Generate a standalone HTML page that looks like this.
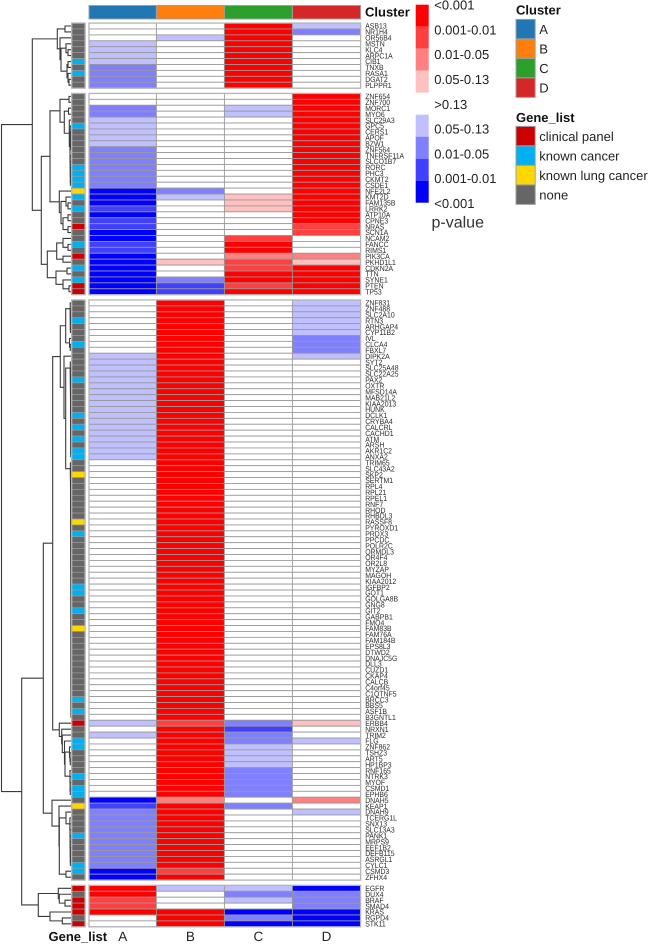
<!DOCTYPE html>
<html lang="en">
<head>
<meta charset="utf-8">
<title>Gene p-value heatmap by cluster</title>
<style>
html,body{margin:0;padding:0;background:#fff;width:650px;height:944px;overflow:hidden}
svg{display:block;font-family:"Liberation Sans",Arial,sans-serif;filter:blur(0.25px)}
text{text-rendering:geometricPrecision}
.rl{font-size:6.9px;fill:#2b2b2b}
.lg{font-size:13px;fill:#222}
.tt{font-size:13px;font-weight:bold;fill:#111}
</style>
</head>
<body>
<svg id="chart" xmlns="http://www.w3.org/2000/svg" width="650" height="944" viewBox="0 0 650 944">
  <rect x="0" y="0" width="650" height="944" fill="#ffffff"/>
  <g id="dendrogram" fill="none" stroke="#3a3a3a" stroke-width="1.1"></g>
  <g id="row-anno"></g>
  <g id="col-anno"></g>
  <g id="cells"></g>
  <g id="outlines" fill="none" stroke="#b4b4b4" stroke-width="1.3"></g>
  <g id="row-labels"></g>
  <text class="tt" x="365" y="16.5">Cluster</text>
  <text class="tt" x="48.5" y="941">Gene_list</text>
  <g id="col-labels"></g>
  <g id="pvalue-legend"></g>
  <text x="431.5" y="227.5" font-size="16" fill="#333">p-value</text>
  <g id="cluster-legend"></g>
  <g id="gene-legend"></g>
</svg>
<script>
// ---------- DATA ----------
const clusters = ["A","B","C","D"];
const clusterColors = ["#1f77b4","#ff7f0e","#2ca02c","#d62728"];
const geneCategories = ["clinical panel","known cancer","known lung cancer","none"];
const geneCategoryColors = ["#cc0000","#00b0f0","#ffd700","#666666"];
const groupSizes = [11,34,98,7];

const genes = [
"ASB13","NR1H4","OR56B4","MSTN","KLC4","ARPC1A","CIB1","TNXB","RASA1","DGAT2","PLPPR1",
"ZNF654","ZNF700","MORC1","MYO6","SLC29A3","GPC5","CERS1","APOF","BZW1","ZNF564","TNFRSF11A","SLCO1B7","RORC","PHC3","CKMT2","CSDE1","NFE2L2","KMT2D","FAM135B","LRRK2","ATP10A","CPNE3","NRAS","SCN1A","NCAM2","FANCC","RIMS1","PIK3CA","PKHD1L1","CDKN2A","TTN","SYNE1","PTEN","TP53",
"ZNF831","ZNF488","SLC2A10","RTN3","ARHGAP4","CYP11B2","IVL","CLCA4","FBXL7","DIPK2A","SYT2","SLC25A48","SLC22A25","PAX2","OXTR","MFSD14A","MAB21L2","KIAA2013","HUNK","DCLK1","CRYBA4","CALCRL","CACHD1","ATM","ARSH","AKR1C2","ANXA2","TRIM65","SLC43A2","SKP2","SERTM1","RPL4","RPL21","RPEL1","RNF7","RHOD","RHBDL3","RASSF8","PYROXD1","PRDX3","PPCDC","POLR2C","ORMDL3","OR4F4","OR2L8","MYZAP","MAGOH","KIAA2012","IGFBP2","GOT1","GOLGA8B","GNG8","GIT2","GABPB1","FMO4","FAM83B","FAM76A","FAM184B","EPS8L3","DTWD2","DNAJC5G","DLL3","CUZD1","CKAP4","CALCB","C4orf45","C1QTNF5","BRCC3","BBS5","ASF1B","B3GNTL1","ERBB4","NRXN1","TRIM2","FLG","ZNF862","TSHZ3","ART5","HP1BP3","RNF165","NTRK3","MYOF","CSMD1","EPHB6","DNAH5","KEAP1","DNAH9","TCERG1L","SNX13","SLC13A3","PANK1","MRPS9","EEF1B2","DEFB115","ASRGL1","CYLC1","CSMD3","ZFHX4",
"EGFR","DUX4","BRAF","SMAD4","KRAS","RGPD4","STK11"];

// index into geneCategories for each gene
const geneListValues = [
3,3,3,3,3,3,1,3,1,3,3,
3,3,3,3,3,1,3,3,3,3,3,3,1,1,1,1,2,1,3,1,3,3,0,3,3,1,3,0,3,1,3,1,0,0,
3,3,3,1,3,3,3,1,3,3,
3,3,3,1,3,3,3,3,3,1,
3,1,3,1,3,1,1,3,3,2,
3,3,3,3,3,3,3,2,3,1,
3,3,3,3,3,3,3,3,1,1,
3,3,1,3,3,2,3,3,3,3,
3,3,3,3,3,3,3,1,3,1,
3,0,3,3,1,1,3,3,3,3,
1,3,1,1,3,2,3,3,3,3,
1,3,3,3,3,1,1,3,
0,3,0,0,0,3,0];

// p-value class per gene: +4..+1 red (<0.001 .. 0.05-0.13), 0 = >0.13, -1..-4 blue
const valuesA = [
0,0,0,-1,-1,-1,-1,-2,-2,-2,-2,
0,0,-2,-2,-1,-1,-1,-1,-1,-2,-2,-2,-2,-2,-2,-2,-4,-4,-4,-3,-4,-3,-3,-4,-4,-3,-3,-4,-4,-4,-4,-4,-4,-4,
0,0,0,0,0,0,0,0,0,-1,
-1,-1,-1,-1,-1,-1,-1,-1,-1,-1,
-1,-1,-1,-1,-1,-1,-1,0,0,0,
0,0,0,0,0,0,0,0,0,0,
0,0,0,0,0,0,0,0,0,0,
0,0,0,0,0,0,0,0,0,0,
0,0,0,0,0,0,0,0,0,0,
0,-1,0,-1,0,0,0,0,0,0,
0,0,0,0,-4,-3,-2,-2,-2,-2,
-2,-2,-2,-2,-2,-2,-4,-4,
4,4,3,3,4,0,0];
const valuesB = [
0,0,-1,0,0,0,0,0,0,0,0,
0,0,0,0,0,0,0,0,0,0,0,0,0,0,0,0,-2,-1,0,0,0,0,0,0,0,0,0,0,1,0,0,-2,-3,-3,
4,4,4,4,4,4,4,4,4,4,
4,4,4,4,4,4,4,4,4,4,
4,4,4,4,4,4,4,4,4,4,
4,4,4,4,4,4,4,4,4,4,
4,4,4,4,4,4,4,4,4,4,
4,4,4,4,4,4,4,4,4,4,
4,4,4,4,4,4,4,4,4,4,
4,3,4,4,4,4,4,4,4,4,
4,4,4,4,2,4,4,4,4,4,
4,4,4,4,4,4,3,4,
-1,0,0,0,4,4,4];
const valuesC = [
4,4,4,4,4,4,4,4,4,4,4,
0,0,-1,-1,0,0,0,0,0,0,0,0,0,0,0,0,0,1,1,1,0,0,0,0,3,4,4,2,3,3,4,4,3,4,
0,0,0,0,0,0,0,0,0,0,
0,0,0,0,0,0,0,0,0,0,
0,0,0,0,0,0,0,0,0,0,
0,0,0,0,0,0,0,0,0,0,
0,0,0,0,0,0,0,0,0,0,
0,0,0,0,0,0,0,0,0,0,
0,0,0,0,0,0,0,0,0,0,
0,-2,-3,-2,-2,-1,-1,-1,-1,-2,
-2,-2,-2,-2,0,-2,0,0,0,0,
0,0,0,0,0,0,0,0,
-1,-2,-1,0,-4,-2,-4];
const valuesD = [
-1,-2,0,0,0,0,0,0,0,0,0,
4,4,4,4,4,4,4,4,4,4,4,4,4,4,4,4,4,4,4,4,4,4,3,3,0,0,0,2,1,4,4,4,4,4,
-1,-1,-1,-1,-1,-1,-2,-2,-2,-1,
0,0,0,0,0,0,0,0,0,0,
0,0,0,0,0,0,0,0,0,0,
0,0,0,0,0,0,0,0,0,0,
0,0,0,0,0,0,0,0,0,0,
0,0,0,0,0,0,0,0,0,0,
0,0,0,0,0,0,0,0,0,0,
0,1,0,0,-1,0,0,0,0,0,
0,0,0,0,2,0,-1,0,0,0,
0,0,0,0,0,0,0,0,
-4,-2,-2,-2,-4,-4,-4];
const clusterValues = [valuesA,valuesB,valuesC,valuesD];

const pLegendLabels = ["<0.001","0.001-0.01","0.01-0.05","0.05-0.13",">0.13","0.05-0.13","0.01-0.05","0.001-0.01","<0.001"];
const pLegendClasses = [4,3,2,1,0,-1,-2,-3,-4];

// Dendrogram merges: [height, childA, childB]; a plain number is a gene row.
function comb(h, from, to){
  if(from === to) return from;
  return [h, from, comb(h*0.92, from+1, to)];
}
const treeG1 = [13.7,
  [6,0,1],
  [11,2,[10,[5,3,[3,4,5]],[4,[3,6,7],[3,8,[2,9,10]]]]]];
const treeG2Upper = [21,
  [11,[2,11,12],[6.7,[2.5,13,14],[1.7,15,[1,comb(0.8,16,20),comb(0.8,21,26)]]]],
  [11.7,27,[10,[5,28,[3,29,30]],[8,[3,31,32],[3,33,34]]]]];
const treeG2Lower = [23.7,
  [14.3,[8,35,[3,36,37]],[8,38,39]],
  [15,[4,40,41],[8,42,[2,43,44]]]];
const treeG3Upper = [18.3,
  [10.7,
    [5.3,comb(0.8,45,50),[1.5,51,[0.7,52,53]]],
    [7,54,[5.3,comb(0.7,55,71),comb(0.6,72,115)]]],
  [11.7,116,[9.3,117,[8.7,118,[6.5,119,[6,[1.5,120,[1,121,[0.7,122,123]]],comb(1,124,128)]]]]]];
const treeG3Lower = [19,129,[12,130,[11.7,[5,131,comb(1.1,132,140)],[5,141,142]]]];
const treeG4 = [32.7,
  [12.7,143,[11.7,144,[6,145,146]]],
  [21,147,[8.7,148,149]]];
const rowTree = [69.5,
  [38.7,treeG1,[29.7,treeG2Upper,treeG2Lower]],
  [49.3,[27.7,treeG3Upper,treeG3Lower],treeG4]];

// ---------- AXES ----------
const NS = "http://www.w3.org/2000/svg";
const rowH = 5.92, groupGap = 5.25, top0 = 23.05;
const colEdges = [89,156.4,224.4,292.4,360.6];
const rowGroupStart = [];
groupSizes.reduce(function(s,n,i){rowGroupStart[i]=s;return s+n;},0);
function groupOf(i){
  let g = 0;
  for(let k=0;k<groupSizes.length;k++){ if(i>=rowGroupStart[k]) g=k; }
  return g;
}
function rowTop(i){ return top0 + i*rowH + groupOf(i)*groupGap; }
function rowMid(i){ return rowTop(i) + rowH/2; }
function dendroX(h){ return 71 - h; }
function classColor(v){
  const shades = ["#ffffff","#ffc0c0","#ff8080","#ff4040","#ff0000"];
  const blues  = ["#ffffff","#c0c0ff","#8080ff","#4040ff","#0000ff"];
  return v >= 0 ? shades[v] : blues[-v];
}
function make(tag, attrs, parent){
  const el = document.createElementNS(NS, tag);
  for(const k in attrs){ el.setAttribute(k, attrs[k]); }
  parent.appendChild(el);
  return el;
}

// ---------- DRAW ----------
const cellsG = document.getElementById("cells");
const rowAnnoG = document.getElementById("row-anno");
const rowLabelG = document.getElementById("row-labels");
const colAnnoG = document.getElementById("col-anno");
const colLabelG = document.getElementById("col-labels");
const dendroG = document.getElementById("dendrogram");
const outlineG = document.getElementById("outlines");

genes.forEach(function(gene,i){
  const y = rowTop(i);
  const a = make("rect",{x:71.7,y:y,width:13.4,height:rowH,fill:geneCategoryColors[geneListValues[i]],stroke:"#999","stroke-width":0.7},rowAnnoG);
  
  
  clusterValues.forEach(function(vals,c){
    const r = make("rect",{x:colEdges[c],y:y,width:colEdges[c+1]-colEdges[c],height:rowH,fill:classColor(vals[i]),stroke:"#999","stroke-width":0.85},cellsG);
    
    
  });
  const t = make("text",{transform:"translate(365.2,"+(rowMid(i)+2.7)+") scale(1,1.12)","class":"rl"},rowLabelG);
  t.textContent = gene;
  
  
});

groupSizes.forEach(function(n,g){
  const y = rowTop(rowGroupStart[g]);
  const h = n*rowH;
  const o1 = make("rect",{x:colEdges[0],y:y,width:colEdges[4]-colEdges[0],height:h},outlineG);
  
  
  const o2 = make("rect",{x:71.7,y:y,width:13.4,height:h},outlineG);
  
  
});

clusters.forEach(function(name,c){
  const r = make("rect",{x:colEdges[c],y:5.5,width:colEdges[c+1]-colEdges[c],height:13.5,fill:clusterColors[c],stroke:"#a0a0a0","stroke-width":1},colAnnoG);
  
  
  const t = make("text",{x:(colEdges[c]+colEdges[c+1])/2,y:941,"text-anchor":"middle","font-size":13.5,fill:"#222"},colLabelG);
  t.textContent = name;
  
  
});

function drawNode(node){
  if(typeof node === "number"){ return {x:dendroX(0),y:rowMid(node)}; }
  const a = drawNode(node[1]);
  const b = drawNode(node[2]);
  const x = dendroX(node[0]);
  const p = make("path",{d:"M"+a.x+" "+a.y+"H"+x+"V"+b.y+"H"+b.x},dendroG);
  
  
  return {x:x,y:(a.y+b.y)/2};
}
drawNode(rowTree);

// p-value legend
const pG = document.getElementById("pvalue-legend");
pLegendClasses.forEach(function(v,i){
  const r = make("rect",{x:415.7,y:4.7+i*22,width:13,height:22,fill:classColor(v)},pG);
  
  
  const t = make("text",{x:434.3,y:5+i*24.8+4.6,"class":"lg"},pG);
  t.textContent = pLegendLabels[i];
  
  
});

// discrete legends
function drawLegend(groupId,title,titleY,boxTop,names,colors){
  const g = document.getElementById(groupId);
  const tt = make("text",{x:516,y:titleY,"class":"tt"},g);
  tt.textContent = title;
  
  
  names.forEach(function(n,i){
    const r = make("rect",{x:516,y:boxTop+i*19.5,width:19.2,height:19.5,fill:colors[i],stroke:"#a0a0a0","stroke-width":1},g);
    
    
    const t = make("text",{x:539.3,y:boxTop+i*19.5+14.4,"class":"lg"},g);
    t.textContent = n;
    
    
  });
}
drawLegend("cluster-legend","Cluster",14.5,19.4,clusters,clusterColors);
drawLegend("gene-legend","Gene_list",122,126.4,geneCategories,geneCategoryColors);
</script>
</body>
</html>
